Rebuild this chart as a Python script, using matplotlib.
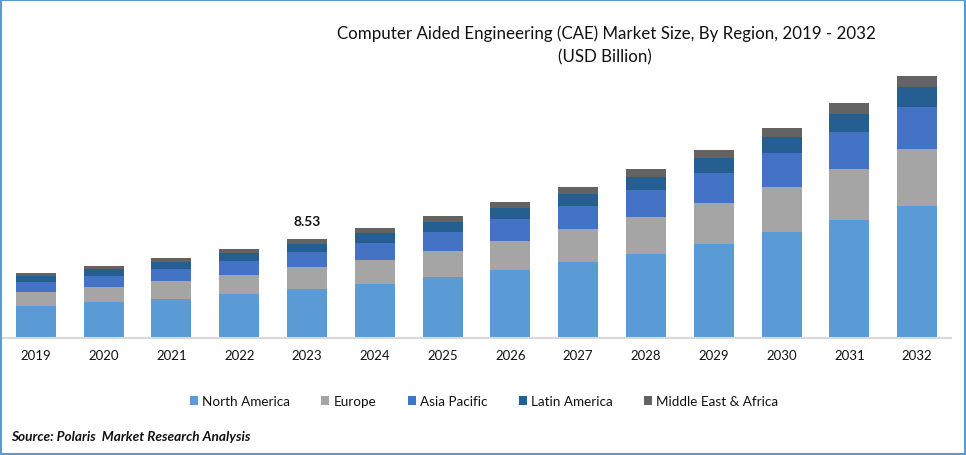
import matplotlib
matplotlib.use("Agg")
import matplotlib.pyplot as plt
from matplotlib.patches import Rectangle
import numpy as np

years = [2019, 2020, 2021, 2022, 2023, 2024, 2025, 2026, 2027, 2028, 2029, 2030, 2031, 2032]
north_america = [2.76, 3.10, 3.36, 3.79, 4.22, 4.66, 5.26, 5.86, 6.55, 7.24, 8.10, 9.14, 10.17, 11.38]
europe = [1.21, 1.29, 1.55, 1.64, 1.90, 2.07, 2.24, 2.50, 2.84, 3.19, 3.53, 3.88, 4.40, 4.91]
asia_pacific = [0.86, 0.95, 1.03, 1.21, 1.29, 1.47, 1.64, 1.90, 1.98, 2.33, 2.59, 2.93, 3.19, 3.62]
latin_america = [0.52, 0.60, 0.60, 0.69, 0.69, 0.86, 0.86, 0.95, 1.03, 1.12, 1.29, 1.38, 1.55, 1.72]
middle_east_africa = [0.26, 0.26, 0.34, 0.34, 0.43, 0.43, 0.52, 0.52, 0.60, 0.69, 0.69, 0.78, 0.95, 0.95]

series_names = ["North America", "Europe", "Asia Pacific", "Latin America", "Middle East & Africa"]
series_values = [north_america, europe, asia_pacific, latin_america, middle_east_africa]
colors = ["#5B9BD5", "#A5A5A5", "#4472C4", "#255E91", "#636363"]

plt.rcParams["font.family"] = ["Lato", "DejaVu Sans"]

W, H = 966, 456
fig = plt.figure(figsize=(W / 100, H / 100), dpi=100)
ax = fig.add_axes([2 / W, (H - 339) / H, 949 / W, 278 / H])

x = np.arange(len(years))
bottom = np.zeros(len(years))
for name, vals, c in zip(series_names, series_values, colors):
    ax.bar(x, vals, 0.59, bottom=bottom, color=c, label=name)
    bottom += np.array(vals)

ax.set_xlim(-0.5, 13.5)
ax.set_ylim(0, 23.97)
ax.set_xticks(x)
ax.set_xticklabels(years, fontsize=9.5, color="#111111")
ax.set_yticks([])
ax.tick_params(axis="x", length=0, pad=7.8)
for s in ["top", "left", "right"]:
    ax.spines[s].set_visible(False)
ax.spines["bottom"].set_color("#D9D9D9")
ax.spines["bottom"].set_linewidth(1.5)

ax.text(x[4], bottom[4] + 1.05, "8.53", ha="center", va="bottom", fontsize=10, fontweight="bold", color="#111111")

fig.text(606 / W, 1 - 34 / H, "Computer Aided Engineering (CAE) Market Size, By Region, 2019 - 2032",
         ha="center", va="center", fontsize=12.2, color="#111111")
fig.text(605 / W, 1 - 57 / H, "(USD Billion)", ha="center", va="center", fontsize=12.2, color="#111111")

leg = fig.legend(loc="center", bbox_to_anchor=(484 / W, 1 - 402 / H), ncol=5, frameon=False,
                 fontsize=9.7, handlelength=0.6, handleheight=0.6, handletextpad=0.3, columnspacing=2.34)
for t in leg.get_texts():
    t.set_color("#111111")

fig.text(11 / W, 1 - 437 / H, "Source: Polaris  Market Research Analysis", ha="left", va="center",
         fontsize=9.8, fontweight="bold", fontstyle="italic", color="#111111")

# blue frame round the picture
fig.add_artist(Rectangle((1 / W, 1 / H), (W - 2) / W, (H - 2) / H, transform=fig.transFigure,
                         fill=False, edgecolor="#5B9BD5", linewidth=1.5))

fig.savefig("out.png", dpi=100)
